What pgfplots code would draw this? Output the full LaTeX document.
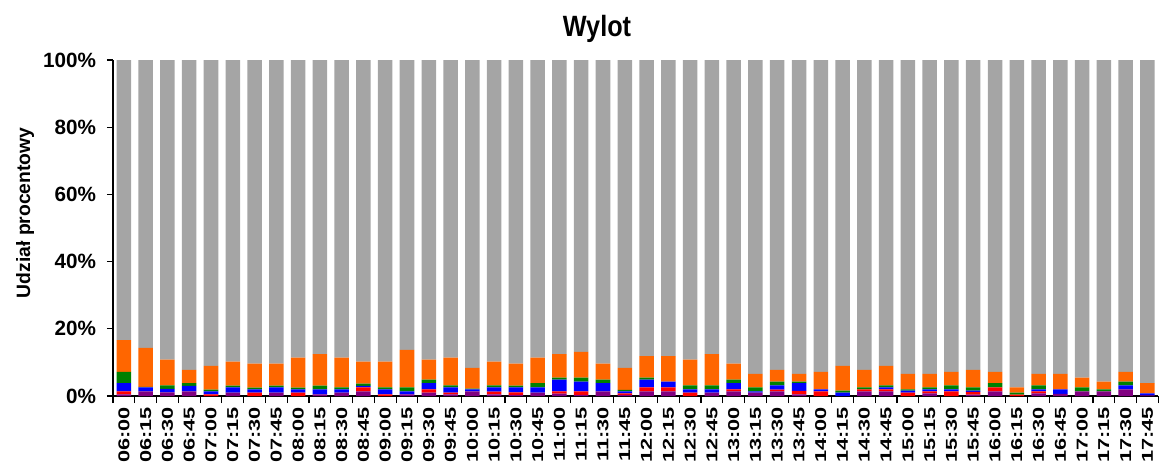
\documentclass[border=0pt]{standalone}
\usepackage{pgfplots}
\usepackage{pgfplotstable}
\usepackage{graphicx}
\usepackage{fontspec}
\setmainfont{Liberation Sans}
\pgfplotsset{compat=1.18}
\definecolor{cpur}{HTML}{800080}
\definecolor{cred}{HTML}{FF0000}
\definecolor{cblu}{HTML}{0000FF}
\definecolor{cgrn}{HTML}{008000}
\definecolor{cora}{HTML}{FF6600}
\definecolor{cgry}{HTML}{A5A5A5}
\newcommand\tl[1]{\scalebox{1.38}[1]{#1}}
\pgfplotstableread{
x P R B G O Gr
0 0.5 0.9 2.4 3.4 9.4 83.4
1 1.4 0.0 1.2 0.1 11.6 85.7
2 1.1 0.0 1.0 1.1 7.6 89.2
3 1.4 0.0 1.6 0.8 4.0 92.2
4 0.0 0.5 0.9 0.5 7.1 91.0
5 1.0 0.0 1.6 0.5 7.1 89.8
6 0.0 1.0 1.0 0.5 7.1 90.4
7 1.0 0.0 1.6 0.5 6.5 90.4
8 0.0 1.0 1.0 0.5 8.9 88.6
9 0.5 0.0 1.5 1.1 9.4 87.5
10 1.0 0.0 1.0 0.6 8.8 88.6
11 1.4 1.2 0.4 0.7 6.5 89.8
12 0.0 0.5 1.5 0.6 7.6 89.8
13 0.5 0.0 0.9 1.2 11.1 86.3
14 1.0 1.0 1.8 1.1 5.9 89.2
15 0.5 0.5 1.6 0.6 8.2 88.6
16 1.4 0.0 0.6 0.2 6.2 91.6
17 0.5 0.8 1.3 0.6 7.0 89.8
18 0.3 0.8 1.5 0.5 6.5 90.4
19 1.0 0.0 1.6 1.2 7.6 88.6
20 0.7 0.7 3.5 0.6 7.0 87.5
21 0.3 1.1 2.9 1.2 7.6 86.9
22 1.4 0.0 2.4 1.1 4.7 90.4
23 0.3 0.5 0.6 0.4 6.6 91.6
24 1.4 1.2 2.3 0.6 6.4 88.1
25 1.4 1.2 1.7 0.0 7.6 88.1
26 0.0 1.0 1.0 1.2 7.6 89.2
27 1.0 0.0 1.0 1.2 9.3 87.5
28 1.4 0.6 1.8 1.1 4.7 90.4
29 1.0 0.0 0.4 1.2 4.0 93.4
30 1.4 0.5 1.3 1.1 3.5 92.2
31 0.5 1.0 2.3 0.5 2.3 93.4
32 0.0 1.4 0.6 0.0 5.2 92.8
33 0.0 0.0 1.0 0.6 7.4 91.0
34 1.4 0.6 0.0 0.6 5.2 92.2
35 1.4 0.6 0.6 0.6 5.8 91.0
36 0.0 1.0 0.6 0.4 4.6 93.4
37 0.8 0.6 0.6 0.6 4.0 93.4
38 0.0 1.4 0.6 1.2 4.0 92.8
39 0.4 0.8 0.4 1.0 5.2 92.2
40 1.4 1.2 0.0 1.2 3.4 92.8
41 0.0 0.4 0.0 0.6 1.6 97.4
42 0.8 0.6 0.6 1.2 3.4 93.4
43 0.6 0.0 1.4 0.0 4.6 93.4
44 1.4 0.0 0.0 1.2 2.9 94.5
45 1.4 0.0 0.0 0.6 2.3 95.7
46 2.0 0.0 1.2 1.1 2.9 92.8
47 0.2 0.0 0.6 0.0 3.0 96.2
}\datatable
\begin{document}
\begin{tikzpicture}
\begin{axis}[
  scale only axis,
  width=784pt, height=252pt,
  ybar stacked, bar width=0.666,
  xmin=-0.5, xmax=47.5, ymin=0, ymax=100,
  axis x line=bottom, axis y line=left,
  axis line style={-, line width=0.9pt},
  clip=false,
  xtick={0,...,47},
  major x tick style={draw=none},
  minor xtick={-0.5,0.5,...,47.5},
  minor tick length=5.25pt,
  minor x tick style={line width=0.9pt, black},
  tick align=outside,
  major tick length=4.5pt,
  ytick={0,20,40,60,80,100},
  yticklabels={0\%,20\%,40\%,60\%,80\%,100\%},
  y tick style={line width=0.9pt, black},
  yticklabel style={font=\fontsize{15.5}{18}\selectfont\bfseries, inner sep=0pt, anchor=east, xshift=-8pt},
  xticklabel style={font=\fontsize{11.8}{13}\selectfont\bfseries, rotate=90, anchor=east, inner sep=0pt, xshift=-3.75pt},
  xticklabels={\tl{06:00},\tl{06:15},\tl{06:30},\tl{06:45},\tl{07:00},\tl{07:15},\tl{07:30},\tl{07:45},\tl{08:00},\tl{08:15},\tl{08:30},\tl{08:45},\tl{09:00},\tl{09:15},\tl{09:30},\tl{09:45},\tl{10:00},\tl{10:15},\tl{10:30},\tl{10:45},\tl{11:00},\tl{11:15},\tl{11:30},\tl{11:45},\tl{12:00},\tl{12:15},\tl{12:30},\tl{12:45},\tl{13:00},\tl{13:15},\tl{13:30},\tl{13:45},\tl{14:00},\tl{14:15},\tl{14:30},\tl{14:45},\tl{15:00},\tl{15:15},\tl{15:30},\tl{15:45},\tl{16:00},\tl{16:15},\tl{16:30},\tl{16:45},\tl{17:00},\tl{17:15},\tl{17:30},\tl{17:45}},
  ylabel={Udział procentowy},
  ylabel style={font=\fontsize{14.5}{17}\selectfont\bfseries, at={(axis description cs:-0.084,0.545)}, anchor=center},
]
\addplot[fill=cpur, draw=none] table[x=x,y=P]{\datatable};
\addplot[fill=cred, draw=none] table[x=x,y=R]{\datatable};
\addplot[fill=cblu, draw=none] table[x=x,y=B]{\datatable};
\addplot[fill=cgrn, draw=none] table[x=x,y=G]{\datatable};
\addplot[fill=cora, draw=none] table[x=x,y=O]{\datatable};
\addplot[fill=cgry, draw=none] table[x=x,y=Gr]{\datatable};
\node[font=\fontsize{22}{26}\selectfont\bfseries] at (rel axis cs:0.463,1) [yshift=23.25pt] {\scalebox{0.86}[1]{Wylot}};
\end{axis}
\pgfresetboundingbox
\path (-84.75pt,-48.75pt) rectangle (786pt,297pt);
\end{tikzpicture}
\end{document}
